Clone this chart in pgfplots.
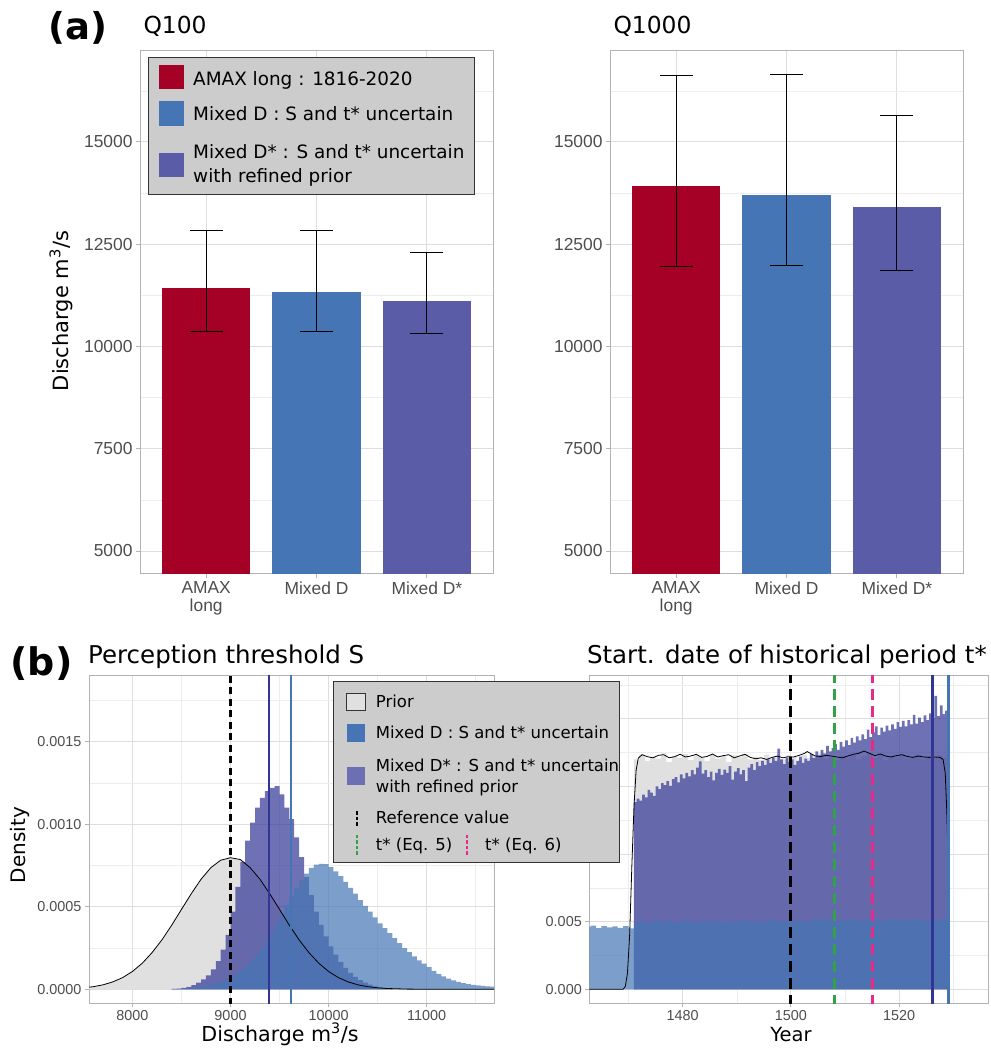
\documentclass[border=0pt]{standalone}
\usepackage{pgfplots}
\pgfplotsset{compat=1.18}
\usepackage{pgfplotstable}
\usepackage{fontspec}
\setmainfont{DejaVu Sans}
\newfontfamily\lib{Liberation Sans}
\definecolor{cred}{HTML}{A50026}
\definecolor{cblue}{HTML}{4575B4}
\definecolor{cpurp}{HTML}{5A5CA8}
\definecolor{cnavy}{HTML}{313695}
\definecolor{pgray}{HTML}{E0E0E0}
\definecolor{gmaj}{HTML}{DEDEDE}
\definecolor{gmin}{HTML}{EDEDED}
\definecolor{gborder}{HTML}{B3B3B3}
\definecolor{ticktxt}{HTML}{4D4D4D}
\definecolor{leggray}{HTML}{CCCCCC}
\definecolor{cgreen}{HTML}{33A04A}
\definecolor{cpink}{HTML}{E7298A}
\definecolor{legblue}{HTML}{4674B5}
\definecolor{legpurp}{HTML}{6E6EB5}

\pgfplotsset{
  gg/.style={
    scale only axis, anchor=south west,
    axis line style={gborder, line width=1pt},
    tick style={gborder, line width=1pt},
    tick align=outside, tick pos=left,
    major tick length=4pt, minor tick length=0pt,
    grid=both,
    major grid style={gmaj, line width=1pt},
    minor grid style={gmin, line width=0.6pt},
    scaled ticks=false,
    clip=true,
  },
}

% ---------- data ----------
\pgfplotstableread{
x y
8400 0.000002
8450 0.000004
8500 0.000008
8550 0.000015
8600 0.000025
8650 0.00004
8700 0.00006
8750 0.000085
8800 0.00012
8850 0.00017
8900 0.00024
8950 0.00033
9000 0.00047
9050 0.00062
9100 0.00077
9150 0.0009
9200 0.00101
9250 0.0011
9300 0.00116
9350 0.0012
9400 0.00122
9450 0.00123
9500 0.00118
9550 0.0011
9600 0.00103
9650 0.00092
9700 0.0008
9750 0.00068
9800 0.00057
9850 0.00047
9900 0.00039
9950 0.00032
10000 0.00026
10050 0.00021
10100 0.000165
10150 0.00013
10200 0.0001
10250 0.000075
10300 0.000055
10350 0.00004
10400 0.000028
10450 0.000018
10500 0.000012
10550 0.000007
10600 0.000004
10650 0.000004
}\purpS

\pgfplotstableread{
x y
8400 0.000002
8450 0.000003
8500 0.000005
8550 0.000007
8600 0.00001
8650 0.000014
8700 0.000019
8750 0.000025
8800 0.000033
8850 0.000042
8900 0.000053
8950 0.000066
9000 0.000082
9050 0.0001
9100 0.00012
9150 0.000145
9200 0.000175
9250 0.00021
9300 0.00025
9350 0.000295
9400 0.000345
9450 0.0004
9500 0.000455
9550 0.00051
9600 0.000565
9650 0.000615
9700 0.00066
9750 0.0007
9800 0.000735
9850 0.000755
9900 0.00076
9950 0.000758
10000 0.00074
10050 0.000715
10100 0.000685
10150 0.00065
10200 0.000615
10250 0.00058
10300 0.00054
10350 0.000505
10400 0.00047
10450 0.000435
10500 0.0004
10550 0.00037
10600 0.00034
10650 0.00031
10700 0.00028
10750 0.00025
10800 0.000225
10850 0.0002
10900 0.000175
10950 0.000155
11000 0.000135
11050 0.000112
11100 0.000093
11150 0.000078
11200 0.000065
11250 0.000054
11300 0.000045
11350 0.000038
11400 0.000032
11450 0.000027
11500 0.000023
11550 0.00002
11600 0.000018
11650 0.000016
11700 0.000016
}\blueS

\pgfplotstableread{
x y
7557 0.0000128
7600 0.0000158
7700 0.0000271
7800 0.0000448
7900 0.0000709
8000 0.000108
8100 0.000158
8200 0.000222
8300 0.000299
8400 0.000388
8500 0.000484
8600 0.000579
8700 0.000667
8800 0.000737
8900 0.000782
9000 0.000797
9100 0.000786
9200 0.000737
9300 0.000667
9400 0.000579
9500 0.000484
9600 0.000388
9700 0.000299
9800 0.000222
9900 0.000158
10000 0.000108
10100 0.0000709
10200 0.0000448
10300 0.0000271
10400 0.0000158
10500 0.0000089
10600 0.0000048
10800 0.0000012
11000 0.0000002
11687 0
}\priorS

\pgfplotstableread{
x y
1471 0.01700
1472 0.01735
1473 0.01690
1474 0.01720
1475 0.01705
1476 0.01745
1477 0.01680
1478 0.01725
1479 0.01710
1480 0.01740
1481 0.01695
1482 0.01730
1483 0.01715
1484 0.01690
1485 0.01735
1486 0.01705
1487 0.01725
1488 0.01680
1489 0.01730
1490 0.01715
1491 0.01740
1492 0.01700
1493 0.01720
1494 0.01695
1495 0.01735
1496 0.01710
1497 0.01725
1498 0.01700
1499 0.01730
1500 0.01715
1501 0.01690
1502 0.01735
1503 0.01710
1504 0.01725
1505 0.01745
1506 0.01705
1507 0.01720
1508 0.01695
1509 0.01730
1510 0.01715
1511 0.01740
1512 0.01700
1513 0.01725
1514 0.01750
1515 0.01710
1516 0.01730
1517 0.01695
1518 0.01725
1519 0.01715
1520 0.01740
1521 0.01705
1522 0.01720
1523 0.01735
1524 0.01700
1525 0.01725
1526 0.01715
1527 0.01730
1528 0.01710
1529 0.01710
}\priorThist

\pgfplotstableread{
x y
1471.0 0.01385
1471.5 0.01410
1472.0 0.01395
1472.5 0.01440
1473.0 0.01420
1473.5 0.01475
1474.0 0.01455
1474.5 0.01430
1475.0 0.01500
1475.5 0.01480
1476.0 0.01525
1476.5 0.01510
1477.0 0.01540
1477.5 0.01505
1478.0 0.01555
1478.5 0.01570
1479.0 0.01530
1479.5 0.01590
1480.0 0.01560
1480.5 0.01600
1481.0 0.01575
1481.5 0.01620
1482.0 0.01590
1482.5 0.01640
1483.0 0.01685
1483.5 0.01595
1484.0 0.01620
1484.5 0.01570
1485.0 0.01610
1485.5 0.01545
1486.0 0.01600
1486.5 0.01630
1487.0 0.01585
1487.5 0.01625
1488.0 0.01600
1488.5 0.01650
1489.0 0.01550
1489.5 0.01610
1490.0 0.01635
1490.5 0.01590
1491.0 0.01620
1491.5 0.01540
1492.0 0.01640
1492.5 0.01665
1493.0 0.01620
1493.5 0.01680
1494.0 0.01650
1494.5 0.01690
1495.0 0.01660
1495.5 0.01700
1496.0 0.01675
1496.5 0.01715
1497.0 0.01690
1497.5 0.01780
1498.0 0.01700
1498.5 0.01665
1499.0 0.01710
1499.5 0.01680
1500.0 0.01700
1500.5 0.01660
1501.0 0.01690
1501.5 0.01720
1502.0 0.01675
1502.5 0.01705
1503.0 0.01690
1503.5 0.01740
1504.0 0.01710
1504.5 0.01760
1505.0 0.01730
1505.5 0.01770
1506.0 0.01745
1506.5 0.01800
1507.0 0.01760
1507.5 0.01785
1508.0 0.01815
1508.5 0.01770
1509.0 0.01830
1509.5 0.01795
1510.0 0.01840
1510.5 0.01805
1511.0 0.01860
1511.5 0.01825
1512.0 0.01870
1512.5 0.01840
1513.0 0.01885
1513.5 0.01850
1514.0 0.01920
1514.5 0.01865
1515.0 0.01900
1515.5 0.01945
1516.0 0.01880
1516.5 0.01935
1517.0 0.01905
1517.5 0.01950
1518.0 0.01915
1518.5 0.01960
1519.0 0.01925
1519.5 0.01975
1520.0 0.01940
1520.5 0.01985
1521.0 0.01945
1521.5 0.01990
1522.0 0.01960
1522.5 0.02030
1523.0 0.01965
1523.5 0.02010
1524.0 0.01975
1524.5 0.02025
1525.0 0.01990
1525.5 0.02040
1526.0 0.02005
1526.5 0.02170
1527.0 0.02020
1527.5 0.02100
1528.0 0.02035
1528.5 0.02060
1529.0 0.02060
}\purpT

\pgfplotstableread{
x y
1462 0.00462
1463 0.00470
1464 0.00452
1465 0.00468
1466 0.00458
1467 0.00465
1468 0.00455
1469 0.00467
1470 0.00450
1471 0.00495
1472 0.00505
1473 0.00490
1474 0.00500
1475 0.00510
1476 0.00495
1477 0.00505
1478 0.00490
1479 0.00500
1480 0.00510
1481 0.00500
1482 0.00490
1483 0.00505
1484 0.00495
1485 0.00510
1486 0.00500
1487 0.00490
1488 0.00505
1489 0.00495
1490 0.00500
1491 0.00510
1492 0.00495
1493 0.00505
1494 0.00490
1495 0.00500
1496 0.00510
1497 0.00500
1498 0.00495
1499 0.00505
1500 0.00500
1501 0.00515
1502 0.00495
1503 0.00505
1504 0.00520
1505 0.00505
1506 0.00525
1507 0.00510
1508 0.00500
1509 0.00515
1510 0.00505
1511 0.00520
1512 0.00500
1513 0.00510
1514 0.00525
1515 0.00505
1516 0.00515
1517 0.00500
1518 0.00520
1519 0.00510
1520 0.00525
1521 0.00505
1522 0.00520
1523 0.00510
1524 0.00500
1525 0.00515
1526 0.00520
1527 0.00505
1528 0.00515
1529 0.00515
}\blueT

\pgfplotstableread{
x y
1462.75 0
1469.0 0
1469.4 0.0002
1469.8 0.0012
1470.2 0.0040
1470.6 0.0090
1471.0 0.0135
1471.4 0.0162
1471.8 0.0171
1472.5 0.01735
1473.5 0.01720
1474.5 0.01712
1475.5 0.01730
1476.5 0.01735
1477.5 0.01712
1478.5 0.01720
1479.5 0.01738
1480.5 0.01718
1481.5 0.01725
1482.5 0.01738
1483.5 0.01715
1484.5 0.01722
1485.5 0.01740
1486.5 0.01718
1487.5 0.01728
1488.5 0.01735
1489.5 0.01712
1490.5 0.01725
1491.5 0.01738
1492.5 0.01715
1493.5 0.01705
1494.5 0.01712
1495.5 0.01700
1496.5 0.01715
1497.5 0.01725
1498.5 0.01712
1499.5 0.01720
1500.5 0.01718
1501.5 0.01730
1502.5 0.01745
1503.0 0.01758
1503.8 0.01740
1504.5 0.01725
1505.5 0.01722
1506.5 0.01730
1507.5 0.01725
1508.5 0.01718
1509.5 0.01712
1510.5 0.01725
1511.5 0.01738
1512.5 0.01745
1513.5 0.01762
1514.5 0.01745
1515.5 0.01728
1516.5 0.01740
1517.5 0.01725
1518.5 0.01718
1519.5 0.01728
1520.5 0.01735
1521.5 0.01722
1522.5 0.01715
1523.5 0.01725
1524.5 0.01718
1525.5 0.01715
1526.5 0.01718
1527.5 0.01715
1528.1 0.01700
1528.5 0.0160
1528.8 0.0130
1529.0 0.0100
1529.2 0.0070
}\priorTline

\begin{document}
\begin{tikzpicture}
\path[use as bounding box] (0,0) rectangle (990pt,1048pt);

% ---------- (a) Q100 ----------
\begin{axis}[gg, at={(140pt,474pt)}, width=353pt, height=523pt,
  xmin=0.4, xmax=3.6, ymin=4438, ymax=17225,
  xtick={1,2,3}, xticklabels={{AMAX\\long},{Mixed D},{Mixed D*}},
  ytick={5000,7500,10000,12500,15000}, yticklabels={5000,7500,10000,12500,15000},
  minor ytick={6250,8750,11250,13750,16250},
  tick label style={font=\lib\fontsize{17.4}{18.5}\selectfont, text=ticktxt},
  xticklabel style={align=center},
]
\addplot[ybar, bar width=0.8, bar shift=0pt, fill=cred, draw=none] coordinates {(1,11441)};
\addplot[ybar, bar width=0.8, bar shift=0pt, fill=cblue, draw=none] coordinates {(2,11325)};
\addplot[ybar, bar width=0.8, bar shift=0pt, fill=cpurp, draw=none] coordinates {(3,11112)};
\addplot[black, line width=1pt, mark=-, mark size=16.5pt, mark options={solid}] coordinates {(1,10358) (1,12824)};
\addplot[black, line width=1pt, mark=-, mark size=16.5pt, mark options={solid}] coordinates {(2,10377) (2,12824)};
\addplot[black, line width=1pt, mark=-, mark size=16.5pt, mark options={solid}] coordinates {(3,10309) (3,12292)};
\end{axis}

% ---------- (a) Q1000 ----------
\begin{axis}[gg, at={(610pt,474pt)}, width=353pt, height=523pt,
  xmin=0.4, xmax=3.6, ymin=4438, ymax=17225,
  xtick={1,2,3}, xticklabels={{AMAX\\long},{Mixed D},{Mixed D*}},
  ytick={5000,7500,10000,12500,15000}, yticklabels={5000,7500,10000,12500,15000},
  minor ytick={6250,8750,11250,13750,16250},
  tick label style={font=\lib\fontsize{17.4}{18.5}\selectfont, text=ticktxt},
  xticklabel style={align=center},
]
\addplot[ybar, bar width=0.8, bar shift=0pt, fill=cred, draw=none] coordinates {(1,13917)};
\addplot[ybar, bar width=0.8, bar shift=0pt, fill=cblue, draw=none] coordinates {(2,13714)};
\addplot[ybar, bar width=0.8, bar shift=0pt, fill=cpurp, draw=none] coordinates {(3,13414)};
\addplot[black, line width=1pt, mark=-, mark size=16.5pt, mark options={solid}] coordinates {(1,11953) (1,16625)};
\addplot[black, line width=1pt, mark=-, mark size=16.5pt, mark options={solid}] coordinates {(2,11973) (2,16654)};
\addplot[black, line width=1pt, mark=-, mark size=16.5pt, mark options={solid}] coordinates {(3,11867) (3,15638)};
\end{axis}

% ---------- (b) Perception threshold ----------
\begin{axis}[gg, at={(89pt,44.7pt)}, width=405pt, height=327.3pt,
  xmin=7557, xmax=11687, ymin=-0.0000848, ymax=0.0018977,
  xtick={8000,9000,10000,11000}, xticklabels={8000,9000,10000,11000},
  minor xtick={8500,9500,10500,11500},
  ytick={0,0.0005,0.001,0.0015}, yticklabels={0.0000,0.0005,0.0010,0.0015},
  minor ytick={0.00025,0.00075,0.00125,0.00175},
  tick label style={font=\lib\fontsize{14.4}{15}\selectfont, text=ticktxt},
]
\addplot[fill=pgray, draw=none] table {\priorS} \closedcycle;
\addplot[const plot, fill=cnavy, fill opacity=0.7, draw=none] table {\purpS} \closedcycle;
\addplot[const plot, fill=cblue, fill opacity=0.7, draw=none] table {\blueS} \closedcycle;
\addplot[black, line width=0.8pt] table {\priorS};
\addplot[black, line width=2.2pt, dash pattern=on 7pt off 4.5pt] coordinates {(9000,-0.001) (9000,0.003)};
\addplot[cnavy, line width=2pt] coordinates {(9388,-0.001) (9388,0.003)};
\addplot[cblue, line width=2pt] coordinates {(9612,-0.001) (9612,0.003)};
\end{axis}

% ---------- (b) Start date ----------
\begin{axis}[gg, at={(589.3pt,44.7pt)}, width=398.7pt, height=327.3pt,
  xmin=1462.75, xmax=1536.4, ymin=-0.001035, ymax=0.02317,
  xtick={1480,1500,1520}, xticklabels={1480,1500,1520},
  minor xtick={1470,1490,1510,1530},
  ytick={0,0.005,0.01,0.015,0.02}, yticklabels={0.000,0.005,{},{},{}},
  minor ytick={0.0025,0.0075,0.0125,0.0175,0.0225},
  tick label style={font=\lib\fontsize{14.4}{15}\selectfont, text=ticktxt},
]
\addplot[const plot, fill=pgray, draw=none] table {\priorThist} \closedcycle;
\addplot[const plot, fill=cnavy, fill opacity=0.7, draw=none] table {\purpT} \closedcycle;
\addplot[const plot, fill=cblue, fill opacity=0.7, draw=none] table {\blueT} \closedcycle;
\addplot[black, line width=0.8pt] table {\priorTline};
\addplot[black, line width=3pt, dash pattern=on 11pt off 6pt] coordinates {(1500,-0.01) (1500,0.03)};
\addplot[cgreen, line width=3pt, dash pattern=on 11pt off 6pt] coordinates {(1508,-0.01) (1508,0.03)};
\addplot[cpink, line width=3pt, dash pattern=on 11pt off 6pt] coordinates {(1515,-0.01) (1515,0.03)};
\addplot[cnavy, line width=3pt] coordinates {(1526.2,-0.01) (1526.2,0.03)};
\addplot[cblue, line width=3pt] coordinates {(1529.1,-0.01) (1529.1,0.03)};
\end{axis}

% ---------- titles and labels ----------
\node[font=\bfseries\fontsize{37}{37}\selectfont] at (78pt,1020.5pt) {(a)};
\node[font=\bfseries\fontsize{38}{38}\selectfont] at (41.5pt,384pt) {(b)};
\node[anchor=base west, font=\fontsize{23.4}{24}\selectfont] at (140pt,1014pt) {Q100};
\node[anchor=base west, font=\fontsize{23.4}{24}\selectfont] at (610pt,1014pt) {Q1000};
\node[anchor=base west, font=\fontsize{24.5}{25}\selectfont, inner sep=0pt] at (88pt,384.7pt) {Perception threshold S};
\node[anchor=base east, font=\fontsize{24.5}{25}\selectfont, inner sep=0pt] at (987pt,384.7pt) {Start. date of historical period t*};
\node[rotate=90, anchor=base, font=\fontsize{21}{21}\selectfont, inner sep=0pt] at (68pt,737pt) {Discharge m\textsuperscript{3}/s};
\node[rotate=90, anchor=base, font=\fontsize{20}{20}\selectfont, inner sep=0pt] at (25pt,203pt) {Density};
\node[anchor=base, font=\fontsize{20.6}{21}\selectfont, inner sep=0pt] at (280pt,6.5pt) {Discharge m\textsuperscript{3}/s};
\node[anchor=base, font=\fontsize{19.5}{20}\selectfont, inner sep=0pt] at (791pt,6.5pt) {Year};

% ---------- legend (a) ----------
\draw[black!80, fill=leggray, line width=1pt] (148.5pt,853pt) rectangle (474pt,990.5pt);
\fill[cred] (159pt,959pt) rectangle (184pt,983pt);
\fill[cblue] (159pt,922pt) rectangle (184pt,946.5pt);
\fill[cpurp] (159pt,870.5pt) rectangle (184pt,895pt);
\begin{scope}[every node/.style={anchor=base west, inner sep=0pt, font=\fontsize{18.4}{19}\selectfont}]
\node at (193pt,962.7pt) {AMAX long : 1816-2020};
\node at (193pt,927pt) {Mixed D : S and t* uncertain};
\node at (193pt,889.3pt) {Mixed D* : S and t* uncertain};
\node at (193pt,865.5pt) {with refined prior};
\end{scope}

% ---------- legend (b) ----------
\draw[black!80, fill=leggray, line width=1pt] (333.3pt,185.3pt) rectangle (619.3pt,366.3pt);
\draw[black!80, fill=pgray, line width=0.8pt] (346.7pt,337.3pt) rectangle (365pt,354.7pt);
\fill[legblue] (346.7pt,306.3pt) rectangle (365pt,323.7pt);
\fill[legpurp] (346.7pt,263.3pt) rectangle (365pt,280.7pt);
\draw[black, line width=2pt, dash pattern=on 3.5pt off 2pt] (356.7pt,222.3pt) -- (356.7pt,237pt);
\draw[cgreen, line width=2pt, dash pattern=on 3.5pt off 2pt] (356.7pt,193pt) -- (356.7pt,214pt);
\draw[cpink, line width=2pt, dash pattern=on 3.5pt off 2pt] (466.7pt,193pt) -- (466.7pt,214pt);
\begin{scope}[every node/.style={anchor=base west, inner sep=0pt, font=\fontsize{16.5}{17}\selectfont}]
\node at (375.7pt,340.7pt) {Prior};
\node at (375.7pt,309.7pt) {Mixed D : S and t* uncertain};
\node at (375.7pt,276.3pt) {Mixed D* : S and t* uncertain};
\node at (375.7pt,255.7pt) {with refined prior};
\node at (375.7pt,224pt) {Reference value};
\node at (375.7pt,197.3pt) {t* (Eq. 5)};
\node at (485pt,197.3pt) {t* (Eq. 6)};
\end{scope}
\end{tikzpicture}
\end{document}
